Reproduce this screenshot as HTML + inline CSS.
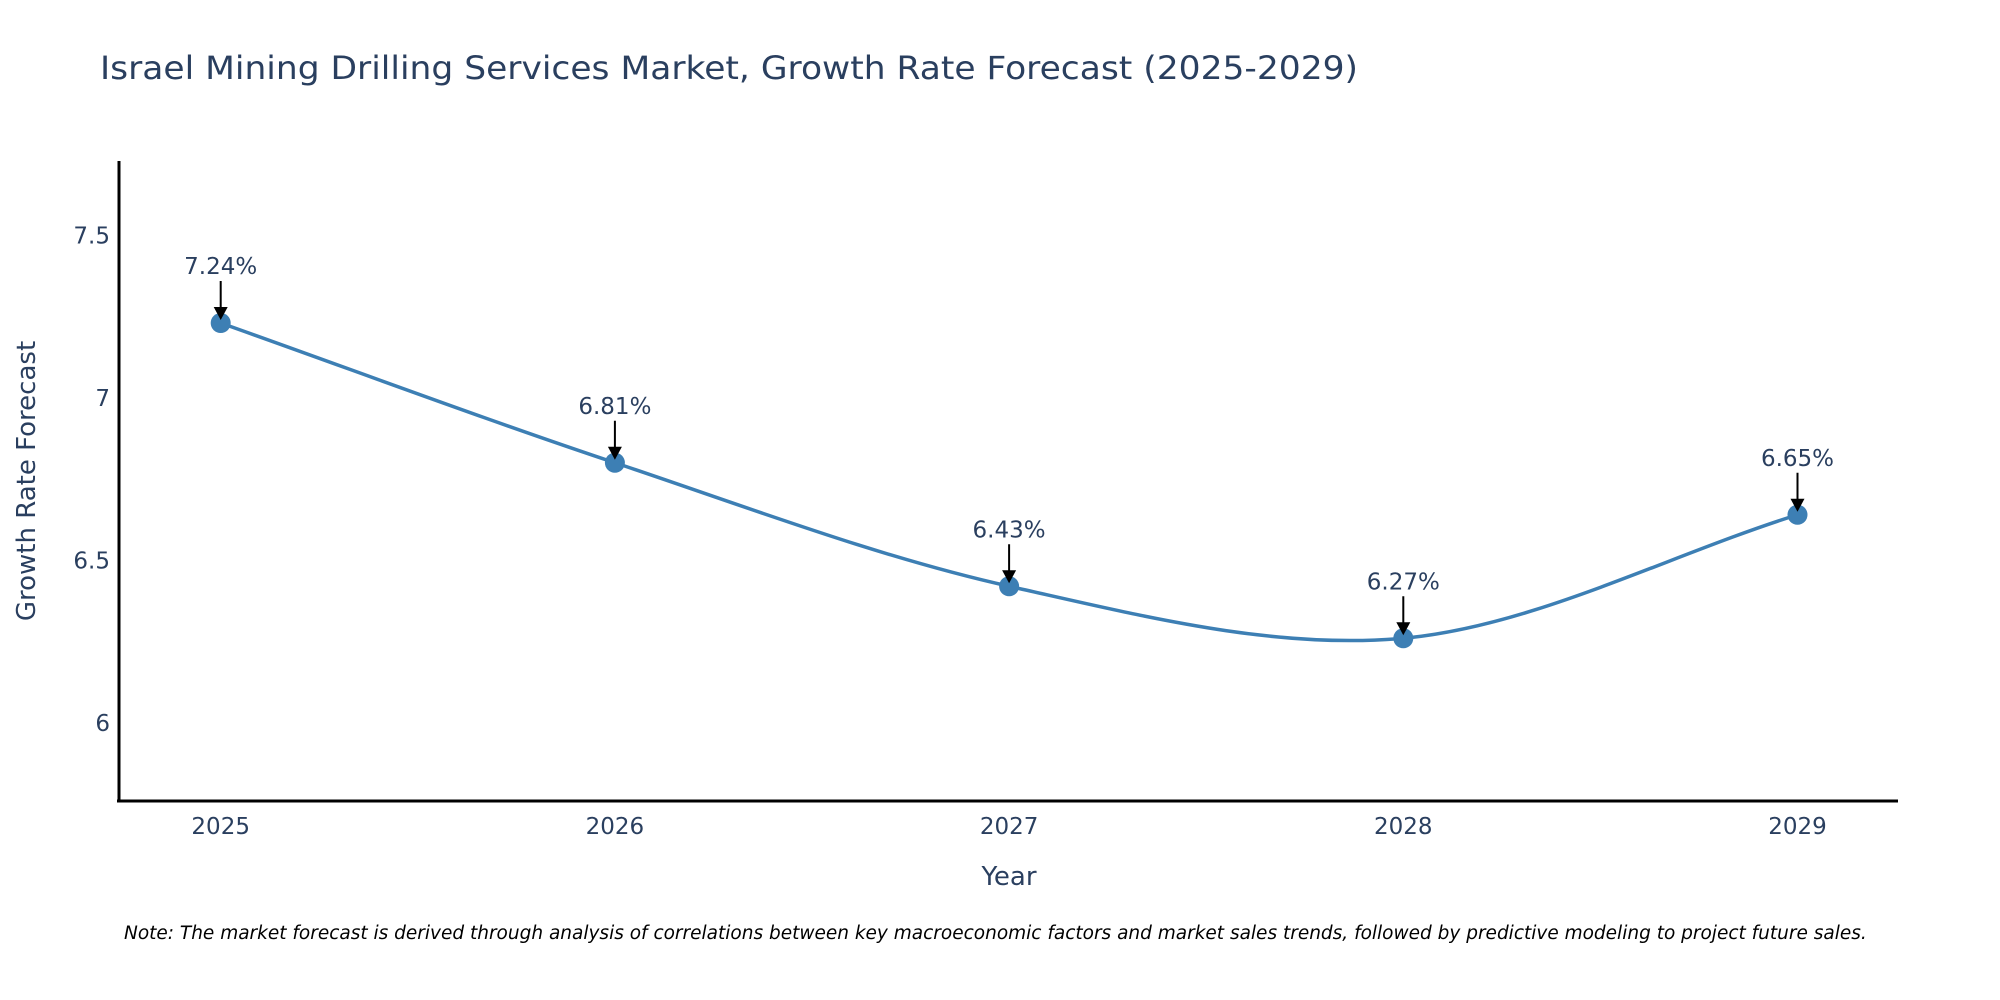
<!DOCTYPE html>
<html><head><meta charset="utf-8"><style>
body{margin:0;background:#fff;}
svg{display:block;font-family:"DejaVu Sans","Liberation Sans",sans-serif;}
</style></head><body>
<svg id="chart" width="2000" height="1000" viewBox="0 0 2000 1000">
<text x="100" y="79" font-size="32" fill="#2a3f5f" textLength="1258" lengthAdjust="spacingAndGlyphs">Israel Mining Drilling Services Market, Growth Rate Forecast (2025-2029)</text>
<g id="yticks"></g>
<g id="xticks"></g>
<path id="line" fill="none" stroke="#3d7fb4" stroke-width="3.5"></path>
<g id="points"></g>
<line x1="119" y1="161" x2="119" y2="802" stroke="#000" stroke-width="3"/>
<line x1="117" y1="801" x2="1898" y2="801" stroke="#000" stroke-width="3"/>
<text transform="translate(35,481) rotate(-90)" text-anchor="middle" font-size="26" fill="#2a3f5f">Growth Rate Forecast</text>
<text x="1009" y="885" text-anchor="middle" font-size="26" fill="#2a3f5f">Year</text>
<text x="124" y="939" font-size="18.5" font-style="italic" fill="#000">Note: The market forecast is derived through analysis of correlations between key macroeconomic factors and market sales trends, followed by predictive modeling to project future sales.</text>
</svg>
<script>
const years=[2025,2026,2027,2028,2029];
const values=[7.24,6.81,6.43,6.27,6.65];
const yTicks=[6,6.5,7,7.5];
const NS="http://www.w3.org/2000/svg";
const X=y=>220.7+(y-2025)*394.2;
const Y=v=>726-(v-6)*325;
const svg=document.getElementById('chart');
function mk(t,a,p){const e=document.createElementNS(NS,t);for(const k in a)e.setAttribute(k,a[k]);p.appendChild(e);return e;}
const yt=document.getElementById('yticks');
yTicks.forEach(v=>{const t=mk('text',{x:110,y:Y(v)+5,'text-anchor':'end','font-size':23,fill:'#2a3f5f'},yt);


t.textContent=String(v);});
const xt=document.getElementById('xticks');
years.forEach(y=>{const t=mk('text',{x:X(y),y:834,'text-anchor':'middle','font-size':23,fill:'#2a3f5f'},xt);


t.textContent=String(y);});
const P=years.map((y,i)=>[X(y),Y(values[i])]);
let d=`M${P[0][0]},${P[0][1]}`;const s=0.33;
for(let i=0;i<P.length-1;i++){const p0=P[i-1]||P[i],p1=P[i],p2=P[i+1],p3=P[i+2]||P[i+1];
d+=` C${p1[0]+(p2[0]-p0[0])*s/2*(i===0?2:1)},${p1[1]+(p2[1]-p0[1])*s/2*(i===0?2:1)} ${p2[0]-(p3[0]-p1[0])*s/2*(i===P.length-2?2:1)},${p2[1]-(p3[1]-p1[1])*s/2*(i===P.length-2?2:1)} ${p2[0]},${p2[1]}`;}
document.getElementById('line').setAttribute('d',d);
const pg=document.getElementById('points');
P.forEach((p,i)=>{
const c=mk('circle',{cx:p[0],cy:p[1],r:10,fill:'#3d7fb4'},pg);


const l=mk('line',{x1:p[0],y1:p[1]-42,x2:p[0],y2:p[1]-14,stroke:'#000','stroke-width':2},pg);


const h=mk('polygon',{points:`${p[0]-7},${p[1]-16} ${p[0]+7},${p[1]-16} ${p[0]},${p[1]-3}`,fill:'#000'},pg);


const t=mk('text',{x:p[0],y:p[1]-49,'text-anchor':'middle','font-size':23,fill:'#2a3f5f'},pg);


t.textContent=values[i].toFixed(2)+'%';
});
</script>
</body></html>
